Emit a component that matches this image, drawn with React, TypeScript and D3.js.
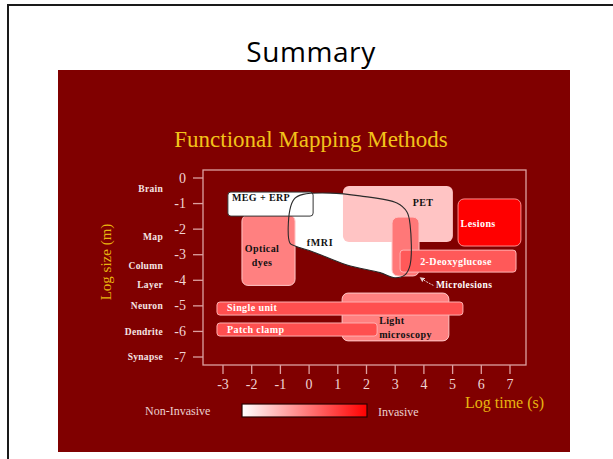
import React from 'react';
import * as d3 from 'd3';

// ---- data ----
const timeTicks = [-3, -2, -1, 0, 1, 2, 3, 4, 5, 6, 7];
const sizeTicks = [0, -1, -2, -3, -4, -5, -6, -7];
const scaleNames = ['Brain', 'Map', 'Column', 'Layer', 'Neuron', 'Dendrite', 'Synapse'];
const scaleLevels = [-0.43, -2.31, -3.44, -4.18, -5.0, -6.02, -7.0];

// methods: time range (log s), size range (log m), invasiveness 0..1
const methodNames = ['Optical dyes', 'PET', 'Microlesions', '2-Deoxyglucose', 'Lesions', 'Light microscopy', 'Single unit', 'Patch clamp', 'MEG + ERP'];
const methodT0 = [-2.34, 1.18, 2.89, 3.17, 5.19, 1.15, -3.21, -3.21, -2.83];
const methodT1 = [-0.49, 5.01, 3.83, 7.21, 7.38, 4.87, 5.36, 2.37, 0.14];
const methodV0 = [-1.45, -0.31, -1.53, -2.82, -0.82, -4.5, -4.85, -5.67, -0.55];
const methodV1 = [-4.2, -2.5, -3.83, -3.68, -2.66, -6.37, -5.36, -6.18, -1.49];
const methodInvasive = [0.5, 0.23, 0.53, 0.65, 1.0, 0.5, 0.69, 0.69, 0.0];
const methodLabelLines = [['Optical', 'dyes'], ['PET'], [], ['2-Deoxyglucose'], ['Lesions'], ['Light', 'microscopy'], ['Single unit'], ['Patch clamp'], ['MEG + ERP']];
const methodLabelT = [-1.64, 3.97, 0, 5.12, 5.89, 2.44, -2.86, -2.86, -2.69];
const methodLabelV = [-3.05, -0.94, 0, -3.25, -1.76, -5.83, -5.05, -5.91, -0.78];

// fMRI outline (time, size)
const fmriT = [-0.67, -0.67, -0.5, -0.21, 0.73, 1.77, 3.06, 3.41, 3.52, 3.52, 3.34, 2.99, 2.47, 1.32, 0.14, -0.49];
const fmriV = [-2.54, -1.25, -0.8, -0.64, -0.59, -0.7, -0.98, -1.33, -1.84, -3.4, -3.79, -3.9, -3.7, -3.4, -2.89, -2.66];
const fmriLabel = { t: 0.38, v: -2.54, text: 'fMRI' };
const microArrowT = [4.33, 4.08, 3.88];
const microArrowV = [-4.2, -4.05, -3.9];
const microLabel = { t: 4.42, v: -4.18, text: 'Microlesions' };

const serif = '"Liberation Serif", "DejaVu Serif", serif';

export default function App() {
  const x = d3.scaleLinear().domain([-3, 7]).range([223, 510]);
  const y = d3.scaleLinear().domain([0, -7]).range([178, 357]);
  const inv = d3.interpolateRgb('#ffffff', '#ff0000');
  const frame = { x0: 203, x1: 526, y0: 170, y1: 365 };

  const fmriPts: [number, number][] = fmriT.map((t, i) => [x(t), y(fmriV[i])]);
  const fmriPath = d3.line().curve(d3.curveCatmullRomClosed.alpha(0.5))(fmriPts) || '';
  const arrowPath = d3.line().curve(d3.curveNatural)(microArrowT.map((t, i) => [x(t), y(microArrowV[i])] as [number, number])) || '';

  const renderBox = (i: number) => {
    const x0 = x(methodT0[i]), x1 = x(methodT1[i]);
    const y0 = y(methodV0[i]), y1 = y(methodV1[i]);
    const h = y1 - y0;
    const isWhite = methodInvasive[i] === 0;
    const fill = inv(methodInvasive[i]);
    const stroke = isWhite ? '#333' : (methodInvasive[i] < 0.3 ? 'none' : inv(methodInvasive[i] * 0.45));
    const lines = methodLabelLines[i];
    const textColor = (methodInvasive[i] >= 0.6) ? '#ffffff' : '#111';
    const anchor = ['Single unit', 'Patch clamp', 'MEG + ERP', 'Light microscopy'].includes(methodNames[i]) ? 'start' : 'middle';
    const lh = 14;
    return (
      <g key={methodNames[i]}>
        <rect x={x0} y={y0} width={x1 - x0} height={h} rx={h < 25 ? 3 : 6} fill={fill} stroke={stroke} strokeWidth={1} />
        {lines.map((ln, k) => (
          <text key={k} x={x(methodLabelT[i])} y={y(methodLabelV[i]) + (k - (lines.length - 1) / 2) * lh}
            dominantBaseline="central" textAnchor={anchor} fontFamily={serif} fontWeight="bold" fontSize={10}
            letterSpacing={0.4} fill={textColor}>{ln}</text>
        ))}
      </g>
    );
  };

  const order = [0, 1, 2, 3, 4, 5, 6, 7, 8];

  return (
    <svg width={613} height={459} style={{ position: 'absolute', left: 0, top: 0, background: '#fff' }}>
      <defs>
        <linearGradient id="invGrad" x1="0" x2="1" y1="0" y2="0">
          <stop offset="0%" stopColor="#ffffff" />
          <stop offset="100%" stopColor="#ff0000" />
        </linearGradient>
        <marker id="arrowHead" viewBox="0 0 10 10" refX="8" refY="5" markerWidth="5" markerHeight="5" orient="auto">
          <path d="M0,0 L10,5 L0,10 z" fill="#e8d0d0" />
        </marker>
      </defs>
      <rect x={0} y={0} width={613} height={459} fill="#fff" />
      {/* slide frame */}
      <line x1={8} y1={5} x2={613} y2={5} stroke="#1a1a1a" strokeWidth={2} />
      <line x1={8} y1={4} x2={8} y2={459} stroke="#1a1a1a" strokeWidth={2} />
      <text x={311} y={62} textAnchor="middle" fontFamily='"Open Sans", "Noto Sans", sans-serif' fontSize={28} letterSpacing={0.6} fill="#000">Summary</text>

      {/* picture background */}
      <rect x={58} y={70} width={512} height={382} fill="#800000" />
      <text x={311} y={147} textAnchor="middle" fontFamily={serif} fontSize={23} fill="#f2c21a">Functional Mapping Methods</text>

      {/* plot frame */}
      <rect x={frame.x0} y={frame.y0} width={frame.x1 - frame.x0} height={frame.y1 - frame.y0} fill="none" stroke="#dca0a0" strokeWidth={1.3} />

      {/* y axis */}
      {sizeTicks.map(v => (
        <g key={'yt' + v}>
          <line x1={frame.x0 - 10} x2={frame.x0} y1={y(v)} y2={y(v)} stroke="#dca0a0" strokeWidth={1.3} />
          <text x={frame.x0 - 17} y={y(v)} dominantBaseline="central" textAnchor="end" fontFamily={serif} fontSize={14} fill="#f0d4d4">{v === 0 ? '0' : '-' + Math.abs(v)}</text>
        </g>
      ))}
      {scaleNames.map((n, i) => (
        <text key={n} x={163} y={y(scaleLevels[i])} dominantBaseline="central" textAnchor="end" fontFamily={serif} fontWeight="bold" fontSize={9.5} letterSpacing={0.3} fill="#f6e4e4">{n}</text>
      ))}
      <text transform={`translate(111, 262) rotate(-90)`} textAnchor="middle" fontFamily={serif} fontSize={15} fill="#e8b410">Log size (m)</text>

      {/* x axis */}
      {timeTicks.map(t => (
        <g key={'xt' + t}>
          <line x1={x(t)} x2={x(t)} y1={frame.y1} y2={frame.y1 + 9} stroke="#dca0a0" strokeWidth={1.3} />
          <text x={x(t)} y={389} textAnchor="middle" fontFamily={serif} fontSize={14} fill="#f0d4d4">{t < 0 ? '-' + Math.abs(t) : String(t)}</text>
        </g>
      ))}
      <text x={465} y={408} fontFamily={serif} fontSize={16} fill="#e8b410">Log time (s)</text>

      {/* fMRI fill */}
      <path d={fmriPath} fill="#ffffff" stroke="none" />
      {order.map(i => renderBox(i))}
      {/* fMRI outline */}
      <path d={fmriPath} fill="none" stroke="#2a2a2a" strokeWidth={1.1} />
      <text x={x(fmriLabel.t)} y={y(fmriLabel.v)} dominantBaseline="central" textAnchor="middle" fontFamily={serif} fontWeight="bold" fontSize={10} letterSpacing={0.6} fill="#111">{fmriLabel.text}</text>

      {/* microlesions annotation */}
      <path d={arrowPath} fill="none" stroke="#e8d0d0" strokeWidth={1} strokeDasharray="2,1" markerEnd="url(#arrowHead)" />
      <text x={x(microLabel.t)} y={y(microLabel.v)} dominantBaseline="central" fontFamily={serif} fontWeight="bold" fontSize={9.5} letterSpacing={0.4} fill="#fff">{microLabel.text}</text>

      {/* legend */}
      <text x={145} y={415} fontFamily={serif} fontSize={12} fill="#ecd0d0">Non-Invasive</text>
      <rect x={242} y={404} width={125} height={13} fill="url(#invGrad)" stroke="#2a0000" strokeWidth={1.2} />
      <text x={378} y={416} fontFamily={serif} fontSize={12} fill="#ecd0d0">Invasive</text>
    </svg>
  );
}
